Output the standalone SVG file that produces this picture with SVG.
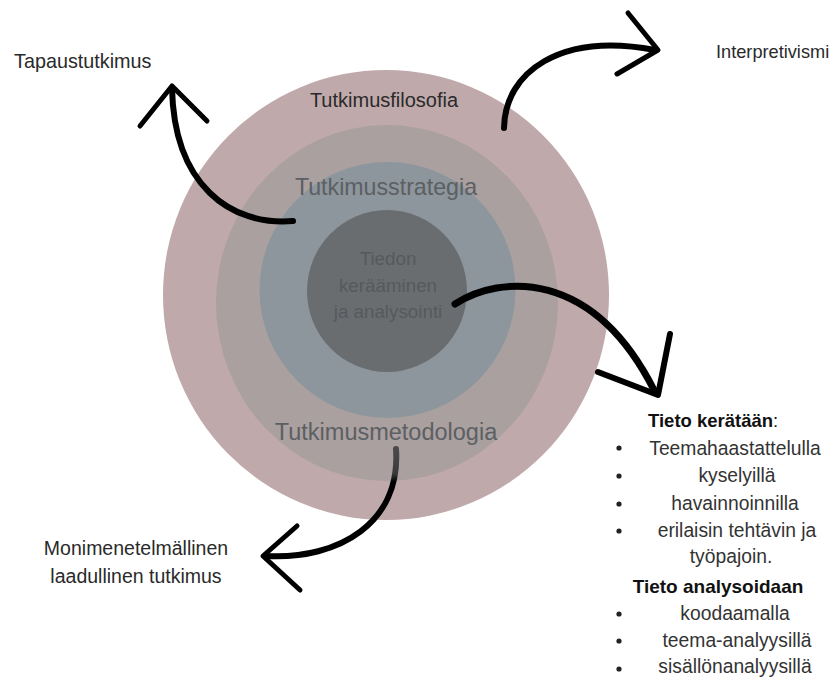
<svg xmlns="http://www.w3.org/2000/svg" width="839" height="680" viewBox="0 0 839 680">
<style>
  text { font-family: "Liberation Sans", Arial, sans-serif; }
  .lbl { font-size: 19.5px; fill: #2a2a2a; }
  .ring { font-size: 23.5px; fill: #5c5f63; text-anchor: middle; }
  .inner { font-size: 18.8px; fill: #56595c; text-anchor: middle; }
  .item { font-size: 19.3px; fill: #333; text-anchor: middle; }
  .head { font-size: 18.5px; fill: #111; font-weight: bold; }
  .arc { fill: none; stroke: #000; stroke-width: 6; stroke-linecap: round; stroke-linejoin: round; }
  .head-v { fill: none; stroke: #000; stroke-width: 5; stroke-linecap: round; stroke-linejoin: round; }
  .dot { fill: #222; }
</style>
<defs>
  <linearGradient id="fade" gradientUnits="userSpaceOnUse" x1="0" y1="449" x2="0" y2="482">
    <stop offset="0" stop-color="#4a4a4a"/>
    <stop offset="0.75" stop-color="#3a3a3a"/>
    <stop offset="1" stop-color="#000"/>
  </linearGradient>
</defs>
<rect width="839" height="680" fill="#fff"/>

<g id="ring-filosofia">
  <ellipse cx="386" cy="295" rx="223" ry="225" fill="#bfa9aa"/>
  <text class="lbl" x="384" y="107" text-anchor="middle" style="font-size:20px">Tutkimusfilosofia</text>
</g>
<g id="ring-metodologia">
  <ellipse cx="387" cy="303" rx="171" ry="178" fill="#a9a09f"/>
  <text class="ring" x="386" y="440">Tutkimusmetodologia</text>
</g>
<g id="ring-strategia">
  <ellipse cx="387.5" cy="290" rx="128" ry="128" fill="#8d969d"/>
  <text class="ring" x="386" y="195" style="font-size:23.2px">Tutkimusstrategia</text>
</g>
<g id="ring-tiedon">
  <ellipse cx="387" cy="291" rx="80" ry="81" fill="#6a6d70"/>
  <text class="inner" x="388" y="265">Tiedon</text>
  <text class="inner" x="388" y="292">kerääminen</text>
  <text class="inner" x="388" y="318">ja analysointi</text>
</g>

<g id="label-tapaustutkimus">
  <text class="lbl" x="14" y="68" style="font-size:19.8px">Tapaustutkimus</text>
</g>
<g id="label-interpretivismi">
  <text class="lbl" x="716" y="58" style="font-size:18.2px">Interpretivismi</text>
</g>
<g id="label-monimenetelmallinen">
  <text class="lbl" x="136" y="555" text-anchor="middle">Monimenetelmällinen</text>
  <text class="lbl" x="136" y="583" text-anchor="middle">laadullinen tutkimus</text>
</g>

<g id="list-tieto">
  <text class="head" x="648" y="427">Tieto kerätään<tspan style="font-weight:normal">:</tspan></text>
  <circle class="dot" cx="619" cy="448" r="2.6"/>
  <text class="item" x="735" y="455">Teemahaastattelulla</text>
  <circle class="dot" cx="619" cy="476" r="2.6"/>
  <text class="item" x="737" y="482">kyselyillä</text>
  <circle class="dot" cx="619" cy="504" r="2.6"/>
  <text class="item" x="735" y="510">havainnoinnilla</text>
  <circle class="dot" cx="619" cy="531" r="2.6"/>
  <text class="item" x="737" y="537">erilaisin tehtävin ja</text>
  <text class="item" x="731" y="563">työpajoin.</text>
  <text class="head" x="718" y="593" text-anchor="middle" style="font-size:19px">Tieto analysoidaan</text>
  <circle class="dot" cx="619" cy="614" r="2.6"/>
  <text class="item" x="735" y="620">koodaamalla</text>
  <circle class="dot" cx="619" cy="641" r="2.6"/>
  <text class="item" x="737" y="647">teema-analyysillä</text>
  <circle class="dot" cx="619" cy="669" r="2.6"/>
  <text class="item" x="735" y="673">sisällönanalyysillä</text>
</g>

<g id="connectors">
  <path class="arc" d="M293,221 C230,226 174,185 172,88"/>
  <path class="head-v" d="M140,126 L172,86 L207,121"/>
  <path class="arc" d="M504,128 C505,72 560,32 655,50"/>
  <path class="head-v" d="M628,13 L658,50 L617,74"/>
  <path class="arc" style="stroke-width:7" d="M455,304 C500,275 592,268 654,390"/>
  <path class="head-v" style="stroke-width:6" d="M598,372 L658,395 L670,334"/>
  <path class="arc" style="stroke:url(#fade)" d="M396,449 C401,522 340,560 266,556"/>
  <path class="head-v" d="M297,526 L263,556 L300,590"/>
</g>
</svg>
